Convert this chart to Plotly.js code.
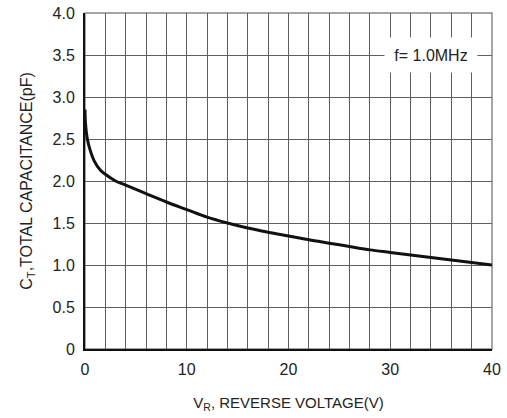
<!DOCTYPE html>
<html>
<head>
<meta charset="utf-8">
<script src="https://cdn.plot.ly/plotly-3.0.1.min.js"></script>
<style>html,body{margin:0;padding:0;background:#fff;}#chart{width:507px;height:418px;}</style>
</head>
<body>
<div id="chart"></div>
<script>
// Reverse voltage (V) and total capacitance (pF)
var voltage = [0, 0.05, 0.23, 0.5, 0.9, 1.5, 2, 3, 4, 6, 8, 10, 12, 14, 16, 18, 20, 22, 24, 26, 28, 30, 32, 34, 36, 38, 40];
var capacitance = [2.85, 2.68, 2.5, 2.37, 2.24, 2.13, 2.08, 2.0, 1.95, 1.85, 1.75, 1.66, 1.57, 1.5, 1.44, 1.39, 1.345, 1.3, 1.26, 1.22, 1.18, 1.15, 1.12, 1.09, 1.06, 1.03, 1.0];
var xTickVals = [0, 10, 20, 30, 40];
var xTickText = ['0', '10', '20', '30', '40'];
var yTickVals = [0, 0.5, 1.0, 1.5, 2.0, 2.5, 3.0, 3.5, 4.0];
var yTickText = ['0', '0.5', '1.0', '1.5', '2.0', '2.5', '3.0', '3.5', '4.0'];
var noteText = 'f= 1.0MHz';

var narrow = 'Liberation Sans Narrow, Liberation Sans, Arial, sans-serif';
var sans = 'Liberation Sans, Arial, sans-serif';
var gridCol = '#5e5e5e';

var trace = {
  x: voltage, y: capacitance, type: 'scatter', mode: 'lines',
  line: {color: '#111', width: 3, shape: 'spline', smoothing: 1},
  hoverinfo: 'skip'
};

var layout = {
  width: 507, height: 418,
  margin: {l: 85, r: 15, t: 13, b: 69},
  paper_bgcolor: '#fff', plot_bgcolor: '#fff',
  showlegend: false,
  font: {family: sans, color: '#222', size: 14},
  xaxis: {
    range: [0, 40], tickmode: 'array', tickvals: xTickVals, ticktext: xTickText,
    showgrid: true, gridcolor: gridCol, gridwidth: 1,
    minor: {dtick: 2, showgrid: true, gridcolor: gridCol, gridwidth: 1},
    showline: true, linecolor: '#111', linewidth: 2,
    ticks: '', ticklen: 0, zeroline: false, fixedrange: true,
    ticklabelstandoff: 5,
    tickfont: {family: narrow, size: 16, color: '#222'},
    title: {text: 'V<sub>R</sub>, REVERSE VOLTAGE(V)', standoff: 20,
            font: {family: sans, size: 15, color: '#222'}}
  },
  yaxis: {
    range: [0, 4], tickmode: 'array', tickvals: yTickVals, ticktext: yTickText,
    showgrid: true, gridcolor: gridCol, gridwidth: 1,
    showline: true, linecolor: '#111', linewidth: 2,
    ticks: '', ticklen: 0, zeroline: false, fixedrange: true,
    ticklabelstandoff: 5,
    tickfont: {family: narrow, size: 16, color: '#222'},
    title: {text: 'C<sub>T</sub>,TOTAL CAPACITANCE(pF)', standoff: 16,
            font: {family: sans, size: 16, color: '#222'}}
  },
  shapes: [
    {type: 'rect', xref: 'paper', yref: 'paper', x0: 0, x1: 1, y0: 0, y1: 1,
     line: {color: '#888', width: 1.5}, layer: 'below'}
  ],
  annotations: [
    {x: 34, y: 3.5, xref: 'x', yref: 'y', text: noteText, showarrow: false,
     bgcolor: '#fff', width: 92, height: 34, borderpad: 0,
     font: {family: sans, size: 16, color: '#222'}}
  ]
};

Plotly.newPlot('chart', [trace], layout, {displayModeBar: false, staticPlot: true});
</script>
</body>
</html>
